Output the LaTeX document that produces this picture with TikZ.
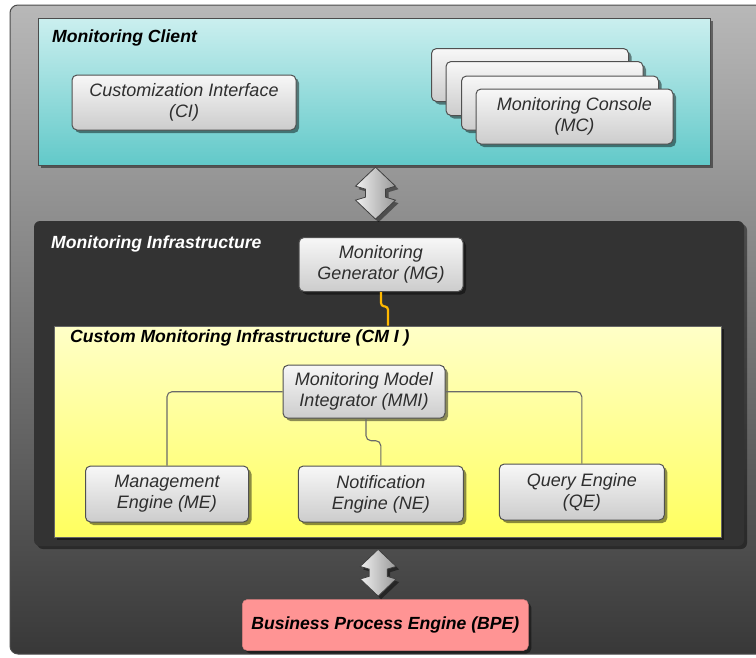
\documentclass[tikz,border=0pt]{standalone}
\usepackage{fontspec}
\setmainfont{Liberation Sans}
\usetikzlibrary{shadows,calc}

\definecolor{frametop}{HTML}{B8B8B8}
\definecolor{framemid}{HTML}{6E6E6E}
\definecolor{framebot}{HTML}{383838}
\definecolor{clienttop}{HTML}{CBEFEF}
\definecolor{clientbot}{HTML}{62C9C9}
\definecolor{infrafill}{HTML}{333333}
\definecolor{cmitop}{HTML}{FFFFC8}
\definecolor{cmibot}{HTML}{FFFF5E}
\definecolor{bpefill}{HTML}{FF9494}
\definecolor{linkgray}{HTML}{6A6A6A}
\definecolor{linkorange}{HTML}{FFB800}
\definecolor{boxline}{HTML}{505050}
\definecolor{boxtext}{HTML}{2E2E2E}

\tikzset{
  shadowed/.style={drop shadow={shadow xshift=3pt,shadow yshift=-3pt,opacity=0.45,fill=black}},
  compbox/.style={shadowed, rectangle, rounded corners=5pt, draw=boxline, line width=1pt,
    top color=white!97!black, bottom color=black!20, text=boxtext,
    font=\fontsize{18}{21}\selectfont\itshape, align=center, inner sep=0pt},
  areatitle/.style={anchor=west, inner sep=0pt, font=\fontsize{17.6}{20}\selectfont\bfseries\itshape},
  link/.style={draw=linkgray, line width=1.1pt, rounded corners=5pt},
  orangelink/.style={draw=linkorange, line width=2.2pt, rounded corners=3pt},
  arrowbody/.style={shadowed, draw=black!75, line width=0.8pt, left color=black!6, right color=black!40},
  updown/.pic={
    \path[arrowbody] (0,-26) -- (20,-7) -- (10,-4) -- (10,4) -- (20,7) -- (0,26)
      -- (-20,7) -- (-10,4) -- (-10,-4) -- (-20,-7) -- cycle;
  }
}

\begin{document}
\begin{tikzpicture}[x=1pt,y=-1pt]
\useasboundingbox (0,0) rectangle (756,657);
\fill[white] (0,0) rectangle (756,657);

% outer frame, running off the right edge
\begin{scope}
  \clip (0,0) rectangle (756,657);
  \path[draw=black!70, line width=1pt, rounded corners=8pt,
        top color=frametop, middle color=framemid, bottom color=framebot] (10,5) rectangle (780,654);
\end{scope}

% monitoring client area
\node[shadowed, rectangle, draw=black!70, line width=1pt, top color=clienttop, bottom color=clientbot,
      minimum width=672pt, minimum height=147pt, inner sep=0pt] (client) at (374,91.5) {};
\node[areatitle, text=black] (clienttitle) at (52,38) {Monitoring Client};

\node[compbox, minimum width=224pt, minimum height=55pt] (ci) at (184,102.5)
  {Customization Interface\\(CI)};

\node[compbox, minimum width=197pt, minimum height=53pt] (mc1) at (530,75) {};
\node[compbox, minimum width=197pt, minimum height=54pt] (mc2) at (544.5,88.5) {};
\node[compbox, minimum width=197pt, minimum height=54pt] (mc3) at (560,103) {};
\node[compbox, minimum width=197pt, minimum height=55pt] (mc) at (574.5,116.5)
  {Monitoring Console\\(MC)};

% monitoring infrastructure area
\node[shadowed, rectangle, rounded corners=6pt, fill=infrafill,
      minimum width=710pt, minimum height=325pt, inner sep=0pt] (infra) at (389,383.5) {};
\node[areatitle, text=white] (infratitle) at (51,244) {Monitoring Infrastructure};

\node[compbox, minimum width=164pt, minimum height=54pt] (mg) at (381,264.5)
  {Monitoring\\Generator (MG)};

% custom monitoring infrastructure area
\node[shadowed, rectangle, draw=black!60, line width=0.6pt, top color=cmitop, bottom color=cmibot,
      minimum width=667pt, minimum height=211pt, inner sep=0pt] (cmi) at (387.5,431.5) {};
\node[areatitle, text=black] (cmititle) at (70,338) {Custom Monitoring Infrastructure (CM I )};

\node[compbox, minimum width=162pt, minimum height=53pt] (mmi) at (364,391.7)
  {Monitoring Model\\Integrator (MMI)};
\node[compbox, minimum width=163pt, minimum height=56pt] (me) at (167,494)
  {Management\\Engine (ME)};
\node[compbox, minimum width=165pt, minimum height=56pt] (ne) at (380.8,494)
  {Notification\\Engine (NE)};
\node[compbox, minimum width=165pt, minimum height=56pt] (qe) at (581.8,492)
  {Query Engine\\(QE)};

% business process engine
\node[shadowed, rectangle, rounded corners=5pt, fill=bpefill, draw=bpefill!85!black, line width=0.5pt,
      minimum width=286pt, minimum height=51pt, inner sep=0pt,
      font=\fontsize{17.6}{20}\selectfont\bfseries\itshape] (bpe) at (385.3,625)
  {Business Process Engine (BPE)};

% connectors inside the custom infrastructure
\draw[link] (mmi.west) -| (me.north);
\draw[link] (mmi.east) -| (qe.north);
\draw[link] ($(mmi.south)+(2,0)$) -- ++(0,22) -| (ne.north);

% generator to custom infrastructure
\draw[orangelink] (mg.south) -- ++(0,14) -- ($(cmi.north -| mg.south)+(7,-19)$) -- ($(cmi.north -| mg.south)+(7,0)$);

% two-way exchange arrows
\coordinate (xchg1) at ($(client.south -| ci.east)!0.5!(infra.north -| ci.east) + (79,0)$);
\coordinate (xchg2) at ($(infra.south)!0.5!(bpe.north) + (-9,0)$);
\pic at (xchg1) {updown};
\pic[scale=0.9] at (xchg2) {updown};
\end{tikzpicture}
\end{document}
